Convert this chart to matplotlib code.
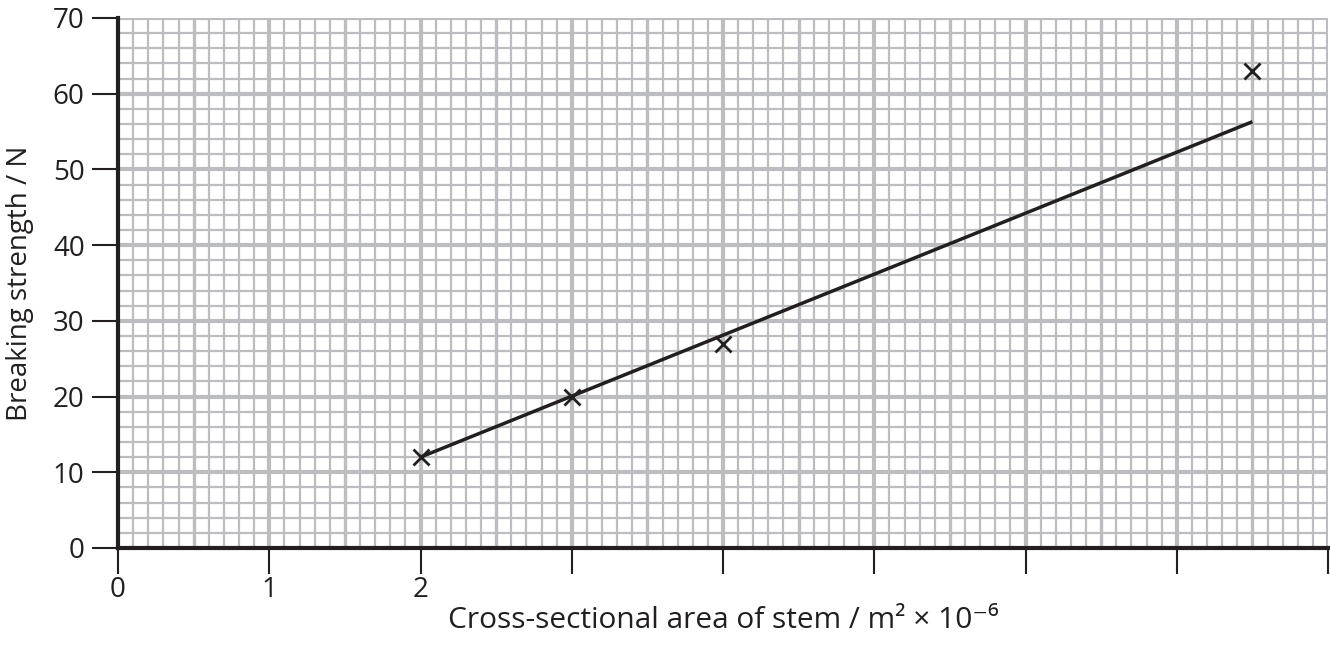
import numpy as np
import matplotlib.pyplot as plt
from matplotlib.ticker import FixedLocator

plt.rcParams['font.family'] = ['Open Sans', 'DejaVu Sans']

# measured points
area = [2, 3, 4, 7.5]
strength = [12, 20, 27, 63]

# drawn best-fit line
fit_x = [2, 7.5]
fit_y = [12, 56.3]

x_ticks = [0, 1, 2, 3, 4, 5, 6, 7, 8]
x_tick_labels = ['0', '1', '2', '', '', '', '', '', '']
y_ticks = [0, 10, 20, 30, 40, 50, 60, 70]

GRID = '#bcbdc0'
INK = '#231f20'

fig = plt.figure(figsize=(13.3, 6.6), dpi=100)
ax = fig.add_axes([118 / 1330, 112 / 660, 1210 / 1330, 530 / 660])

ax.set_xlim(0, 8)
ax.set_ylim(0, 70)

# graph paper
for v in np.arange(0.1, 8.01, 0.1):
    r = round(v * 10)
    lw = 3 if r % 10 == 0 else (2.4 if r % 5 == 0 else 1.6)
    ax.axvline(v, color=GRID, lw=lw, zorder=0)
for v in np.arange(2, 70.1, 2):
    lw = 3 if round(v) % 10 == 0 else 1.6
    ax.axhline(v, color=GRID, lw=lw, zorder=0)

ax.plot(fit_x, fit_y, color=INK, lw=2.5, solid_capstyle='butt', zorder=3)
ax.plot(area, strength, linestyle='none', marker='x', color=INK,
        markersize=12, markeredgewidth=2, zorder=4)

for s in ['top', 'right']:
    ax.spines[s].set_visible(False)
for s in ['left', 'bottom']:
    ax.spines[s].set_linewidth(3)
    ax.spines[s].set_color(INK)
    ax.spines[s].set_zorder(5)

ax.xaxis.set_major_locator(FixedLocator(x_ticks))
ax.set_xticklabels(x_tick_labels)
ax.yaxis.set_major_locator(FixedLocator(y_ticks))
ax.tick_params(axis='both', direction='out', length=19, width=1.5,
               color=INK, labelsize=20, labelcolor=INK)
ax.tick_params(axis='x', pad=1)
ax.tick_params(axis='y', pad=5)

fig.text(723 / 1330, 1 - 620 / 660, 'Cross-sectional area of stem / m² × 10⁻⁶',
         fontsize=21.5, color=INK, ha='center', va='center')
fig.text(20 / 1330, 1 - 283 / 660, 'Breaking strength / N',
         fontsize=20, color=INK, ha='center', va='center', rotation=90)

fig.savefig('out.png', dpi=100)
